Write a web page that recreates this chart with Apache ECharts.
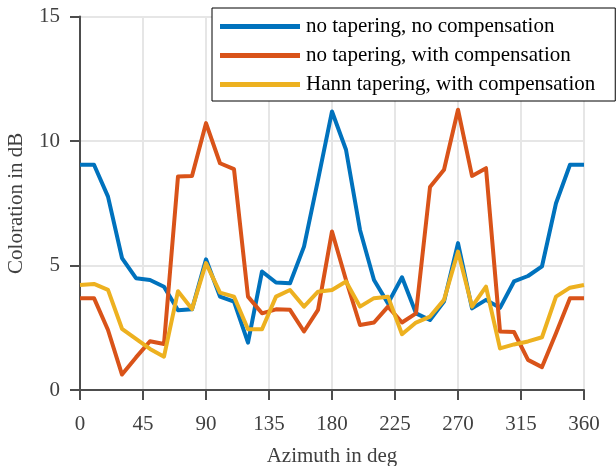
<!DOCTYPE html>
<html>
<head>
<meta charset="utf-8">
<script src="https://cdn.jsdelivr.net/npm/echarts@6/dist/echarts.min.js"></script>
<style>html,body{margin:0;padding:0;background:#fff;}#c{width:616px;height:466px;}</style>
</head>
<body>
<div id="c"></div>
<script>
const azimuth = [0,10,20,30,40,50,60,70,80,90,100,110,120,130,140,150,160,170,180,190,200,210,220,230,240,250,260,270,280,290,300,310,320,330,340,350,360];
const noTaperNoComp = [9.05,9.05,7.77,5.3,4.49,4.42,4.15,3.2,3.24,5.25,3.75,3.55,1.9,4.76,4.32,4.29,5.76,8.44,11.19,9.65,6.43,4.42,3.48,4.53,3.08,2.81,3.55,5.9,3.28,3.62,3.3,4.36,4.58,4.97,7.5,9.05,9.05];
const noTaperWithComp = [3.69,3.69,2.41,0.62,1.31,1.96,1.85,8.58,8.6,10.72,9.11,8.87,3.75,3.08,3.24,3.22,2.35,3.22,6.37,4.42,2.61,2.71,3.35,2.71,3.08,8.15,8.85,11.26,8.6,8.91,2.35,2.33,1.21,0.92,2.28,3.69,3.69];
const hannWithComp = [4.22,4.26,4.02,2.46,2.05,1.65,1.34,3.97,3.25,5.1,3.91,3.75,2.44,2.44,3.75,4.02,3.35,3.95,4.02,4.36,3.35,3.69,3.75,2.24,2.71,2.95,3.62,5.56,3.35,4.15,1.67,1.83,1.95,2.12,3.75,4.11,4.22];
const seriesNames = ['no tapering, no compensation','no tapering, with compensation','Hann tapering, with compensation'];
const colors = ['#0072BD','#D95319','#EDB120'];
const xTicks = {min:0, max:360, interval:45};
const yTicks = {min:0, max:15, interval:5};

const font = 'Liberation Serif';
function pairs(vals){ return azimuth.map((a,i)=>[a, vals[i]]); }
const chart = echarts.init(document.getElementById('c'), null, {renderer:'canvas'});
const axisCommon = {
  axisLine:{show:true, lineStyle:{color:'#4d4d4d', width:2}},
  axisTick:{show:true, inside:false, length:10, lineStyle:{color:'#4d4d4d', width:2}},
  splitLine:{show:true, lineStyle:{color:'#e6e6e6', width:2}},
  nameLocation:'middle',
  nameTextStyle:{fontFamily:font, fontSize:21, color:'#404040'}
};
chart.setOption({
  animation:false,
  backgroundColor:'#fff',
  color:colors,
  grid:{left:80, right:32, top:16.6, bottom:76, containLabel:false, outerBoundsMode:'none'},
  xAxis:Object.assign({}, axisCommon, {
    type:'value', min:xTicks.min, max:xTicks.max, interval:xTicks.interval,
    name:'Azimuth in deg', nameGap:56,
    axisLabel:{fontFamily:font, fontSize:21, color:'#404040', margin:24}
  }),
  yAxis:Object.assign({}, axisCommon, {
    type:'value', min:yTicks.min, max:yTicks.max, interval:yTicks.interval,
    name:'Coloration in dB', nameGap:53,
    axisLabel:{fontFamily:font, fontSize:21, color:'#404040', margin:20}
  }),
  legend:{
    show:true, orient:'vertical', left:212, top:8,
    padding:[8,20,6,8], itemGap:8, itemWidth:80, itemHeight:5,
    borderColor:'#000', borderWidth:1, backgroundColor:'#fff',
    icon:'rect',
    textStyle:{fontFamily:font, fontSize:21, color:'#000', padding:[0,0,0,1]},
    data:seriesNames
  },
  series:[noTaperNoComp, noTaperWithComp, hannWithComp].map((v,i)=>({
    name:seriesNames[i], type:'line', data:pairs(v), showSymbol:false, symbol:'none',
    lineStyle:{width:4, color:colors[i], join:'round'}, itemStyle:{color:colors[i]}
  }))
});
</script>
</body>
</html>
